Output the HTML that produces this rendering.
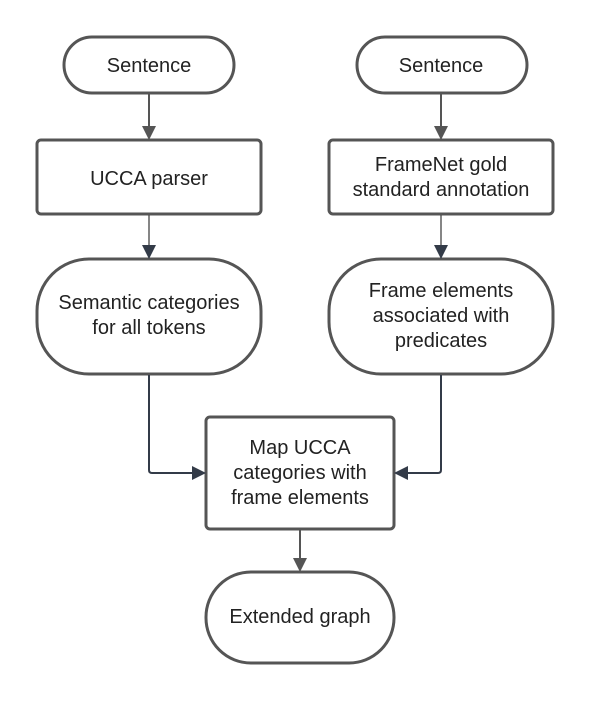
<!DOCTYPE html>
<html><head><meta charset="utf-8"><style>
html,body{margin:0;padding:0;background:#fff;}
svg{display:block;}
text{font-family:"Liberation Sans",sans-serif;font-size:20px;fill:#222;text-anchor:middle;}
</style></head><body>
<svg width="591" height="702" viewBox="0 0 591 702" xmlns="http://www.w3.org/2000/svg">
<defs>
<marker id="a" markerWidth="14" markerHeight="14" refX="12" refY="7" orient="auto" markerUnits="userSpaceOnUse">
<path d="M0,0 L14,7 L0,14 z" fill="#555"/></marker>
<marker id="b" markerWidth="14" markerHeight="14" refX="12" refY="7" orient="auto" markerUnits="userSpaceOnUse">
<path d="M0,0 L14,7 L0,14 z" fill="#333b48"/></marker>
</defs>
<g fill="none" stroke="#555" stroke-width="3">
<rect x="64" y="37" width="170" height="56" rx="28"/>
<rect x="357" y="37" width="170" height="56" rx="28"/>
<rect x="37" y="140" width="224" height="74" rx="4"/>
<rect x="329" y="140" width="224" height="74" rx="4"/>
<rect x="37" y="259" width="224" height="115" rx="52"/>
<rect x="329" y="259" width="224" height="115" rx="52"/>
<rect x="206" y="417" width="188" height="112" rx="4"/>
<rect x="206" y="572" width="188" height="91" rx="45"/>
</g>
<g fill="none" stroke-width="2">
<line x1="149" y1="94" x2="149" y2="138" stroke="#555" marker-end="url(#a)"/>
<line x1="441" y1="94" x2="441" y2="138" stroke="#555" marker-end="url(#a)"/>
<line x1="149" y1="215" x2="149" y2="257" stroke="#444" stroke-width="1.3" marker-end="url(#b)"/>
<line x1="441" y1="215" x2="441" y2="257" stroke="#444" stroke-width="1.3" marker-end="url(#b)"/>
<path d="M149,375 V470 Q149,473 152,473 H204" stroke="#333b48" marker-end="url(#b)"/>
<path d="M441,375 V470 Q441,473 438,473 H396" stroke="#333b48" marker-end="url(#b)"/>
<line x1="300" y1="530" x2="300" y2="570" stroke="#555" marker-end="url(#a)"/>
</g>
<text x="149" y="72">Sentence</text>
<text x="441" y="72">Sentence</text>
<text x="149" y="185">UCCA parser</text>
<text x="441" y="171">FrameNet gold</text>
<text x="441" y="196">standard annotation</text>
<text x="149" y="309">Semantic categories</text>
<text x="149" y="334">for all tokens</text>
<text x="441" y="297">Frame elements</text>
<text x="441" y="322">associated with</text>
<text x="441" y="347">predicates</text>
<text x="300" y="454">Map UCCA</text>
<text x="300" y="479">categories with</text>
<text x="300" y="504">frame elements</text>
<text x="300" y="623">Extended graph</text>
</svg>
</body></html>
